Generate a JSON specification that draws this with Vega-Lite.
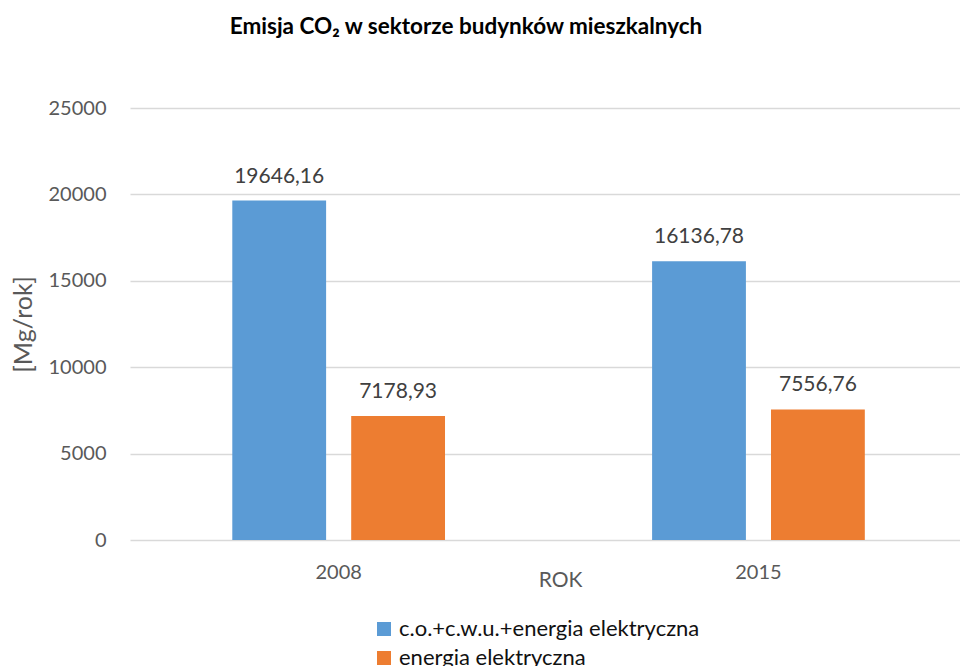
{
  "$schema": "https://vega.github.io/schema/vega-lite/v6.json",
  "autosize": "none",
  "padding": {"left": 130, "top": 108, "right": 0, "bottom": 126},
  "width": 830,
  "height": 432,
  "title": {
    "text": "Emisja CO₂ w sektorze budynków mieszkalnych",
    "anchor": "middle",
    "frame": "group",
    "dx": -79,
    "offset": 60,
    "font": "Lato",
    "fontSize": 22.5,
    "fontWeight": "bold",
    "color": "#000000"
  },
  "data": {
    "values": [
      {"rok": "2008", "seria": "c.o.+c.w.u.+energia elektryczna", "wartosc": 19646.16},
      {"rok": "2008", "seria": "energia elektryczna", "wartosc": 7178.93},
      {"rok": "2015", "seria": "c.o.+c.w.u.+energia elektryczna", "wartosc": 16136.78},
      {"rok": "2015", "seria": "energia elektryczna", "wartosc": 7556.76}
    ]
  },
  "encoding": {
    "x": {
      "field": "rok",
      "type": "nominal",
      "scale": {"paddingInner": 0.4933, "paddingOuter": 0.2352, "align": 0.518},
      "axis": {
        "title": "ROK",
        "labelAngle": 0,
        "domain": false,
        "ticks": false,
        "labelPadding": 22,
        "labelFont": "Lato",
        "labelFontSize": 20,
        "labelColor": "#595959",
        "titleFont": "Lato",
        "titleFontSize": 21,
        "titleFontWeight": "normal",
        "titleColor": "#595959",
        "titleX": 430,
        "titleY": 40,
        "titleBaseline": "middle",
        "titleAlign": "center"
      }
    },
    "xOffset": {
      "field": "seria",
      "type": "nominal",
      "scale": {"paddingInner": 0.211, "paddingOuter": 0}
    },
    "y": {
      "field": "wartosc",
      "type": "quantitative",
      "scale": {"domain": [0, 25000], "nice": false},
      "axis": {
        "title": "[Mg/rok]",
        "values": [0, 5000, 10000, 15000, 20000, 25000],
        "format": "d",
        "domain": false,
        "ticks": false,
        "labelPadding": 24,
        "labelFont": "Lato",
        "labelFontSize": 20,
        "labelColor": "#595959",
        "grid": true,
        "gridColor": "#d9d9d9",
        "gridWidth": 1.5,
        "titleFont": "Lato",
        "titleFontSize": 25,
        "titleFontWeight": "normal",
        "titleColor": "#595959",
        "titleX": -107,
        "titleY": 216,
        "titleAngle": -90,
        "titleBaseline": "middle",
        "titleAlign": "center"
      }
    }
  },
  "layer": [
    {
      "mark": {"type": "bar"},
      "encoding": {
        "color": {
          "field": "seria",
          "type": "nominal",
          "scale": {
            "domain": ["c.o.+c.w.u.+energia elektryczna", "energia elektryczna"],
            "range": ["#5B9BD5", "#ED7D31"]
          },
          "legend": {
            "title": null,
            "orient": "none",
            "legendX": 243,
            "legendY": 510,
            "direction": "vertical",
            "symbolType": "square",
            "symbolSize": 196,
            "symbolStrokeWidth": 0,
            "labelFont": "Lato",
            "labelFontSize": 22,
            "labelColor": "#111111",
            "labelOffset": 4,
            "rowPadding": 7,
            "padding": 0,
            "labelLimit": 500
          }
        }
      }
    },
    {
      "mark": {"type": "text", "baseline": "alphabetic", "dy": -18, "font": "Lato", "fontSize": 21, "color": "#404040"},
      "encoding": {
        "text": {"field": "wartosc", "type": "quantitative", "format": ".2f"}
      }
    }
  ],
  "config": {
    "view": {"stroke": null},
    "locale": {"number": {"decimal": ",", "thousands": "\u00a0", "grouping": [3], "currency": ["", ""]}}
  }
}
